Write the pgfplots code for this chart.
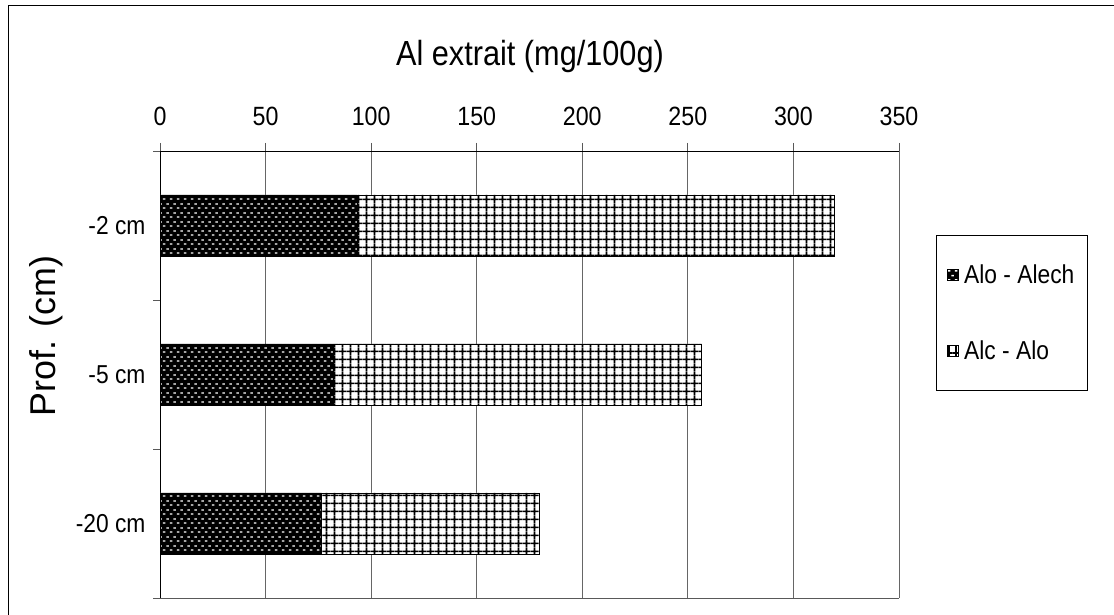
\documentclass[border=0pt]{standalone}
\usepackage{fontspec}
\setmainfont{Liberation Sans}
\newfontfamily\narrowfont{Liberation Sans}[FakeStretch=0.88]
\usepackage{pgfplots}
\pgfplotsset{compat=1.18}
\usetikzlibrary{patterns}

\pgfdeclarepatternformonly{biggrid}{\pgfqpoint{0bp}{0bp}}{\pgfqpoint{7.5bp}{7.6bp}}{\pgfqpoint{7.5bp}{7.6bp}}{%
  \pgfsetlinewidth{1.8bp}%
  \pgfpathmoveto{\pgfqpoint{-0.5bp}{3.8bp}}\pgfpathlineto{\pgfqpoint{8bp}{3.8bp}}%
  \pgfpathmoveto{\pgfqpoint{3.75bp}{-0.5bp}}\pgfpathlineto{\pgfqpoint{3.75bp}{8.1bp}}%
  \pgfusepath{stroke}}
\pgfdeclarepatternformonly{wdash}{\pgfqpoint{0bp}{0bp}}{\pgfqpoint{7.4bp}{9bp}}{\pgfqpoint{7.4bp}{9bp}}{%
  \pgfpathrectangle{\pgfqpoint{1bp}{1.5bp}}{\pgfqpoint{2.6bp}{1.4bp}}%
  \pgfpathrectangle{\pgfqpoint{4.7bp}{6bp}}{\pgfqpoint{2.6bp}{1.4bp}}%
  \pgfusepath{fill}}

\pgfplotstableread{
pos dark light
0 93.4 226.0
1 82.1 174.4
2 76.6 103.0
}\datatable

\begin{document}
\begin{tikzpicture}[x=1bp,y=1bp]
\useasboundingbox (0,0) rectangle (1114,615);
\draw[line width=1.4bp] (8.5,-2) -- (8.5,609.5) -- (1120,609.5);
\begin{axis}[
  at={(160bp,17bp)}, anchor=south west,
  scale only axis, width=739bp, height=447bp,
  xbar stacked, bar width=0.41,
  y dir=reverse,
  xmin=0, xmax=350, ymin=-0.5, ymax=2.5,
  axis x line*=top, axis y line*=left,
  axis line style={black, line width=0.9bp},
  xtick={0,50,...,350},
  xmajorgrids, grid style={gray!80!black, line width=0.8bp},
  major tick length=8bp,
  tick align=outside,
  x tick style={gray!70!black, line width=0.8bp},
  ytick={0,1,2}, yticklabels={-2 cm,-5 cm,-20 cm},
  y tick style={draw=none},
  minor ytick={-0.5,0.5,1.5,2.5},
  minor y tick style={draw=gray!70!black, line width=0.8bp},
  minor tick length=7bp,
  xticklabel style={font=\narrowfont\fontsize{26.5}{30}\selectfont, yshift=14bp},
  yticklabel style={font=\narrowfont\fontsize{26}{30}\selectfont, xshift=-3bp},
  /pgf/number format/assume math mode=true,
  legend style={at={(1.050,0.812)}, anchor=north west, draw=black, line width=0.8bp,
    font=\narrowfont\fontsize{26}{29}\selectfont, inner xsep=11bp, inner ysep=27bp,
    row sep=52bp, column sep=3bp, cells={anchor=west}},
  legend image code/.code={\draw[#1] (0bp,-5.5bp) rectangle (11bp,5.5bp);},
]
\addplot[draw=black, line width=0.8bp, fill=black, postaction={pattern=wdash, pattern color=white}] table[x=dark, y=pos] {\datatable};
\addplot[draw=black, line width=0.8bp, fill=white, postaction={pattern=biggrid, pattern color=black}] table[x=light, y=pos] {\datatable};
\legend{Alo - Alech, Alc - Alo}
\draw[gray!70!black, line width=0.8bp] (axis cs:0,2.5) -- (axis cs:350,2.5);
\end{axis}
\node[anchor=base, font=\narrowfont\fontsize{35}{38}\selectfont, inner sep=0] at (530,549) {Al extrait (mg/100g)};
\node[rotate=90, font=\fontsize{36}{40}\selectfont, inner sep=0] at (46,279) {Prof. (cm)};
\end{tikzpicture}
\end{document}
